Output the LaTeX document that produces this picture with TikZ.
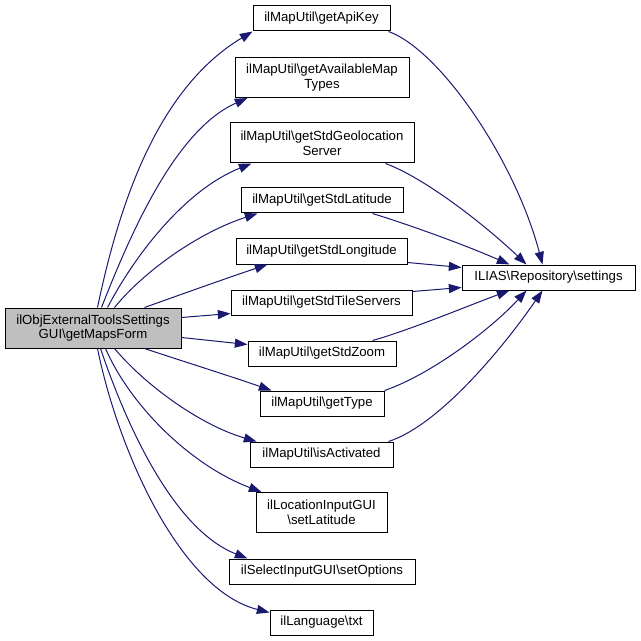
\documentclass[tikz,border=0pt]{standalone}
\usepackage{fontspec}
\setmainfont{Liberation Sans}
\usetikzlibrary{arrows.meta,calc}
\newdimen\pxu \pxu=0.75pt
\definecolor{edgeblue}{HTML}{191970}
\definecolor{maingray}{HTML}{BFBFBF}
\begin{document}
\begin{tikzpicture}[x=0.75pt,y=-0.75pt,
  box/.style={draw=black, fill=white, line width=0.75pt, inner sep=0pt, align=center,
    font=\fontsize{9.9}{11}\selectfont},
  onebox/.style={box, minimum height=25\pxu},
  twobox/.style={box, minimum height=40\pxu},
  edge/.style={draw=edgeblue, line width=0.75pt, -{Triangle[length=9.5pt,width=6.8pt]}}]
\useasboundingbox (0,0) rectangle (640,641);
% nodes
\node[twobox, fill=maingray, minimum width=176\pxu] (main) at (93,328) {ilObjExternalToolsSettings\\GUI\textbackslash getMapsForm};
\node[onebox, minimum width=137\pxu] (apikey) at (321.5,18.5) {ilMapUtil\textbackslash getApiKey};
\node[twobox, minimum width=174\pxu] (avail) at (322,77.5) {ilMapUtil\textbackslash getAvailableMap\\Types};
\node[twobox, minimum width=184\pxu] (geo) at (322,143) {ilMapUtil\textbackslash getStdGeolocation\\Server};
\node[onebox, minimum width=162\pxu] (lat) at (322,200.5) {ilMapUtil\textbackslash getStdLatitude};
\node[onebox, minimum width=171\pxu] (lon) at (321.5,251.5) {ilMapUtil\textbackslash getStdLongitude};
\node[onebox, minimum width=181\pxu] (tile) at (321.5,302.5) {ilMapUtil\textbackslash getStdTileServers};
\node[onebox, minimum width=148\pxu] (zoom) at (322,353.5) {ilMapUtil\textbackslash getStdZoom};
\node[onebox, minimum width=124\pxu] (type) at (322,403.5) {ilMapUtil\textbackslash getType};
\node[onebox, minimum width=143\pxu] (isact) at (321.5,454.5) {ilMapUtil\textbackslash isActivated};
\node[twobox, minimum width=131\pxu] (setlat) at (321.5,512.5) {ilLocationInputGUI\\\textbackslash setLatitude};
\node[onebox, minimum width=186\pxu] (setopt) at (322,571.5) {ilSelectInputGUI\textbackslash setOptions};
\node[onebox, minimum width=103\pxu] (txt) at (321.5,622.5) {ilLanguage\textbackslash txt};
\node[onebox, minimum width=173\pxu] (settings) at (548.5,277.5) {ILIAS\textbackslash Repository\textbackslash settings};
% edges from main
\draw[edge] ($(main.north west)+(93,0)$) .. controls (118,210) and (155,90) .. ($(apikey.south west)+(0,0)$);
\draw[edge] ($(main.north west)+(97,0)$) .. controls (130,235) and (175,130) .. ($(avail.south west)+(13,0)$);
\draw[edge] ($(main.north west)+(103,0)$) .. controls (135,255) and (185,190) .. ($(geo.south west)+(22,0)$);
\draw[edge] ($(main.north west)+(110,0)$) .. controls (145,270) and (200,232) .. ($(lat.south west)+(17,0)$);
\draw[edge] ($(main.north west)+(140,0)$) .. controls (185,293) and (230,277) .. ($(lon.south west)+(32,0)$);
\draw[edge] ($(main.north east)+(0,10)$) -- ($(tile.south west)+(0,-2)$);
\draw[edge] ($(main.south east)+(0,-11)$) -- ($(zoom.north west)+(0,4)$);
\draw[edge] ($(main.south west)+(140,0)$) .. controls (185,362) and (230,376) .. ($(type.north west)+(12,0)$);
\draw[edge] ($(main.south west)+(110,0)$) .. controls (145,385) and (200,425) .. ($(isact.north west)+(7,0)$);
\draw[edge] ($(main.south west)+(101,0)$) .. controls (130,405) and (190,465) .. ($(setlat.north west)+(6,0)$);
\draw[edge] ($(main.south west)+(96,0)$) .. controls (128,430) and (175,530) .. ($(setopt.north west)+(19,0)$);
\draw[edge] ($(main.south west)+(93,0)$) .. controls (118,450) and (180,590) .. ($(txt.north west)+(0,3)$);
% edges to settings
\draw[edge] ($(apikey.south east)+(-2,0)$) .. controls (440,50) and (515,160) .. ($(settings.north west)+(81,0)$);
\draw[edge] ($(geo.south east)+(-29,0)$) .. controls (425,178) and (485,225) .. ($(settings.north west)+(65,0)$);
\draw[edge] ($(lat.south east)+(-31,0)$) .. controls (410,225) and (465,245) .. ($(settings.north west)+(48,0)$);
\draw[edge] ($(lon.south east)+(0,-2)$) -- ($(settings.north west)+(0,3)$);
\draw[edge] ($(tile.north east)+(0,2)$) -- ($(settings.south west)+(0,-3)$);
\draw[edge] ($(zoom.north east)+(-24,0)$) .. controls (410,330) and (470,305) .. ($(settings.south west)+(48,0)$);
\draw[edge] ($(type.north east)+(0,0)$) .. controls (430,375) and (490,330) .. ($(settings.south west)+(65,0)$);
\draw[edge] ($(isact.north east)+(-5,0)$) .. controls (440,425) and (505,345) .. ($(settings.south west)+(81,0)$);
\end{tikzpicture}
\end{document}
